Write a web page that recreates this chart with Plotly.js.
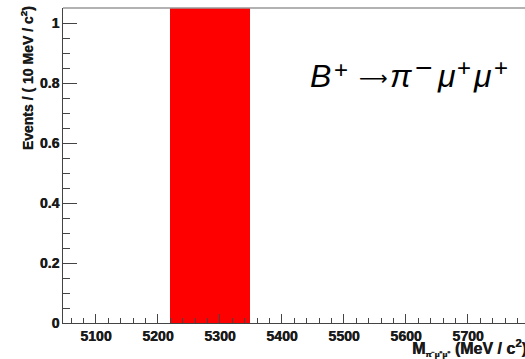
<!DOCTYPE html>
<html>
<head>
<meta charset="utf-8">
<script src="https://cdn.plot.ly/plotly-3.0.1.min.js"></script>
<style>
  html, body { margin: 0; padding: 0; background: #fff; }
  #plot { width: 525px; height: 359px; }
</style>
</head>
<body>
<div id="plot"></div>
<script>
// Signal window in the pi- mu+ mu+ invariant mass (MeV/c^2), shaded in red
const windowEdges = [5220, 5348];
const windowHeight = [1.05];

// Axis extents and tick labels
const massRange = [5047, 5792];
const eventsRange = [0, 1.05];
const massTicks = [5100, 5200, 5300, 5400, 5500, 5600, 5700];
const eventTicks = [0, 0.2, 0.4, 0.6, 0.8, 1];

const lo = windowEdges[0], hi = windowEdges[1];

const trace = {
  type: 'bar',
  x: [(lo + hi) / 2],
  y: windowHeight,
  width: [hi - lo],
  marker: { color: '#ff0000', line: { width: 0 } },
  hoverinfo: 'skip'
};

const sans = 'Arial, Liberation Sans, sans-serif';
// heavy label text: bold face plus a hairline offset copy
const heavy = { family: sans, color: '#1a1a1a', weight: 'bold', shadow: '0.5px 0 0 #1a1a1a' };
const tickFont = Object.assign({ size: 14 }, heavy);

// Decay label, typeset piece by piece so that super-scripts and the
// arrow get their own sizes: [text, x centre, y centre, size, italic, family]
const decayPieces = [
  ['B', 0.558, 0.783, 32, true],
  ['+', 0.601, 0.806, 24, false],
  ['⟶', 0.671, 0.778, 20, false, 'DejaVu Sans'],
  ['π', 0.731, 0.783, 32, true],
  ['−', 0.781, 0.810, 30, false],
  ['μ', 0.831, 0.783, 32, true],
  ['+', 0.869, 0.810, 24, false],
  ['μ', 0.909, 0.783, 32, true],
  ['+', 0.949, 0.810, 24, false]
];

const decayAnnotations = decayPieces.map(([t, x, y, size, italic, fam]) => ({
  xref: 'paper', yref: 'paper', x: x, y: y,
  xanchor: 'center', yanchor: 'middle',
  text: italic ? '<i>' + t + '</i>' : t,
  showarrow: false,
  font: { family: fam || 'Liberation Sans, Arial, sans-serif', size: size, color: '#000' }
}));

const layout = {
  width: 525,
  height: 359,
  margin: { l: 63, r: 0, t: 8, b: 36 },
  paper_bgcolor: '#fff',
  plot_bgcolor: '#fff',
  showlegend: false,
  bargap: 0,
  xaxis: {
    range: massRange,
    tickvals: massTicks,
    ticktext: massTicks.map(String),
    ticks: 'inside',
    ticklen: 9,
    tickwidth: 1,
    tickcolor: '#444',
    minor: { dtick: 20, tick0: 5000, ticks: 'inside', ticklen: 5, tickcolor: '#444', tickwidth: 1 },
    showline: true,
    linecolor: '#444',
    linewidth: 1,
    showgrid: false,
    zeroline: false,
    tickfont: tickFont,
    fixedrange: true
  },
  yaxis: {
    range: eventsRange,
    tickvals: eventTicks,
    ticktext: eventTicks.map(String),
    ticks: 'inside',
    ticklen: 14,
    tickwidth: 1,
    tickcolor: '#444',
    minor: { dtick: 0.05, tick0: 0, ticks: 'inside', ticklen: 7, tickcolor: '#444', tickwidth: 1 },
    showline: true,
    linecolor: '#444',
    linewidth: 1,
    showgrid: false,
    zeroline: false,
    tickfont: tickFont,
    fixedrange: true
  },
  shapes: [
    // top frame line
    { type: 'line', xref: 'paper', yref: 'paper', x0: 0, x1: 1, y0: 1, y1: 1,
      line: { color: '#999', width: 1.5 } }
  ],
  annotations: [
    {
      xref: 'paper', yref: 'paper', x: -0.079, y: 1.01,
      xanchor: 'center', yanchor: 'top', textangle: -90,
      text: '<b>Events / ( 10 MeV / c<sup>2</sup>)</b>',
      showarrow: false,
      font: Object.assign({ size: 14 }, heavy)
    },
    {
      xref: 'paper', yref: 'paper', x: 0.752, y: -0.039,
      xanchor: 'left', yanchor: 'top',
      text: '<b>M</b><sub><span style="font-size:8px">π⁻μ⁺μ⁺</span></sub><b> (MeV / c<sup>2</sup>)</b>',
      showarrow: false,
      font: Object.assign({ size: 16 }, heavy)
    }
  ].concat(decayAnnotations)
};

Plotly.newPlot('plot', [trace], layout, { displayModeBar: false, staticPlot: true });
</script>
</body>
</html>
